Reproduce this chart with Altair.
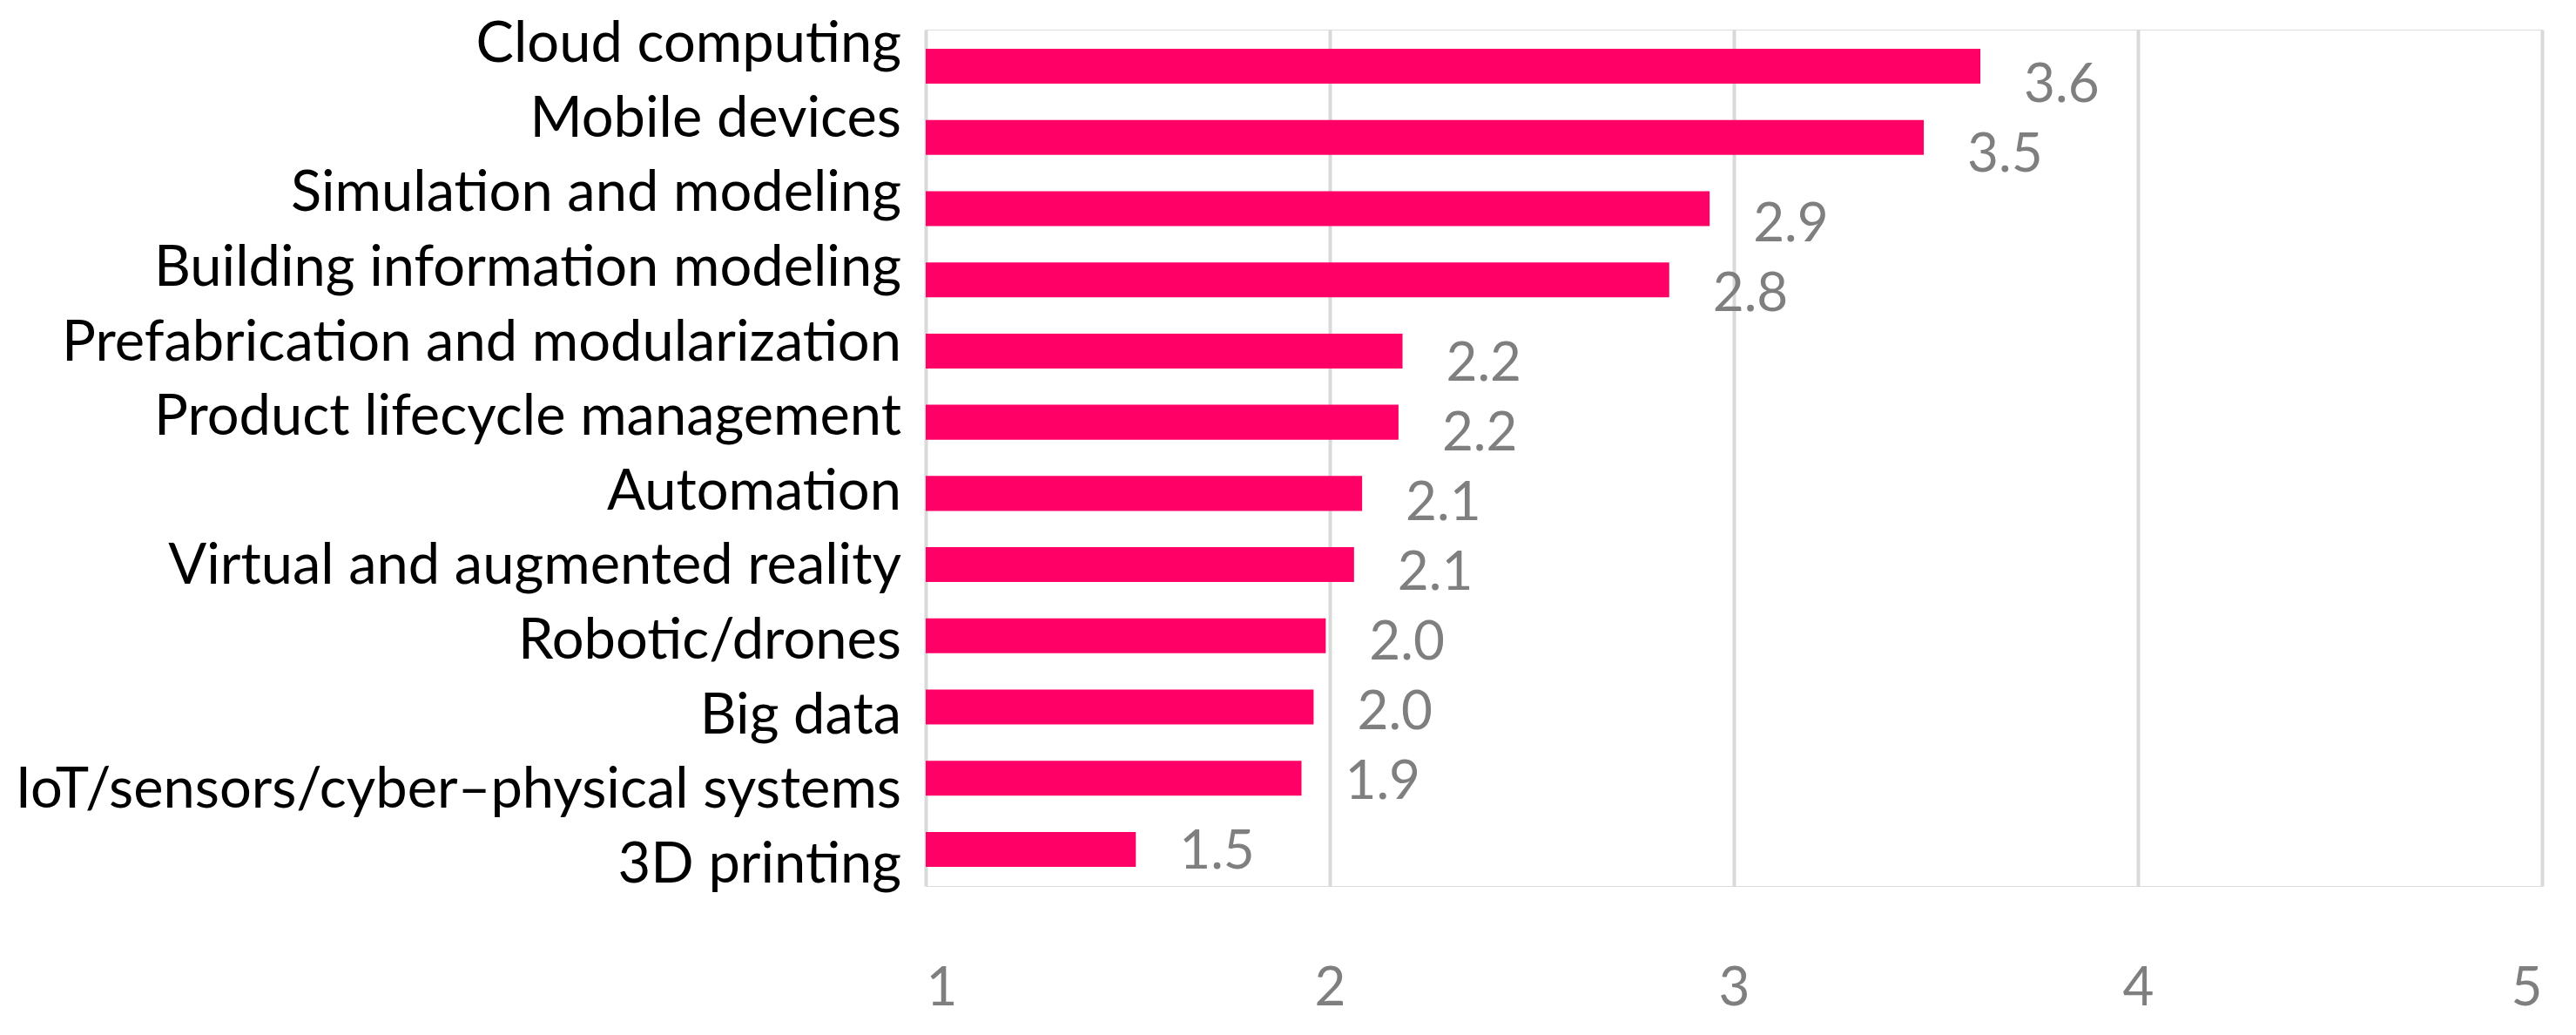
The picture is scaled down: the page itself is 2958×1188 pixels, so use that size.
import altair as alt
import pandas as pd

categories = [
    "Cloud computing",
    "Mobile devices",
    "Simulation and modeling",
    "Building information modeling",
    "Prefabrication and modularization",
    "Product lifecycle management",
    "Automation",
    "Virtual and augmented reality",
    "Robotic/drones",
    "Big data",
    "IoT/sensors/cyber\u2013physical systems",
    "3D printing",
]
values = [3.61, 3.47, 2.94, 2.84, 2.18, 2.17, 2.08, 2.06, 1.99, 1.96, 1.93, 1.52]
x_ticks = [1, 2, 3, 4, 5]

df = pd.DataFrame({"cat": categories, "v": values})
df["lbl"] = [f"{v:.1f}" for v in values]

W, H = 1856, 983
FONT = "Lato"
GRAY = "#7f7f7f"
PINK = "#ff0066"

xscale = alt.Scale(domain=[1, 5], nice=False, zero=False)
xaxis = alt.Axis(
    values=x_ticks, grid=True, gridColor="#d9d9d9", gridWidth=4,
    domain=False, ticks=False, tickSize=0, title=None,
    labelFont=FONT, labelFontSize=62, labelColor=GRAY,
    labelBaseline="alphabetic", labelPadding=136, format="d",
)

bars = alt.Chart(df).mark_bar(color=PINK).encode(
    x=alt.X("v:Q", scale=xscale, axis=xaxis),
    x2=alt.datum(1),
    y=alt.Y("cat:N", sort=categories, axis=None,
            scale=alt.Scale(type="band", range=[0, H], paddingInner=0.51, paddingOuter=0.27)),
)

cat_text = alt.Chart(df).mark_text(
    align="right", baseline="alphabetic", font=FONT, fontSize=65, color="black"
).encode(
    x=alt.value(-28),
    y=alt.Y("cat:N", sort=categories, axis=None,
            scale=alt.Scale(type="point", range=[37, 979], padding=0)),
    text="cat:N",
)

val_text = alt.Chart(df).mark_text(
    align="left", baseline="alphabetic", font=FONT, fontSize=62, color=GRAY, dx=50
).encode(
    x=alt.X("v:Q", scale=xscale, axis=xaxis),
    y=alt.Y("cat:N", sort=categories, axis=None,
            scale=alt.Scale(type="point", range=[83, 963], padding=0)),
    text="lbl:N",
)

chart = alt.layer(bars, cat_text, val_text).resolve_scale(y="independent").properties(
    width=W, height=H,
    autosize=alt.AutoSizeParams(type="none"),
    padding={"left": 1055, "top": 26, "right": 30, "bottom": 160},
).configure_view(strokeWidth=0, stroke="transparent").configure(background="white")

chart.save("out.html", embed_options={"renderer": "svg", "actions": False})
